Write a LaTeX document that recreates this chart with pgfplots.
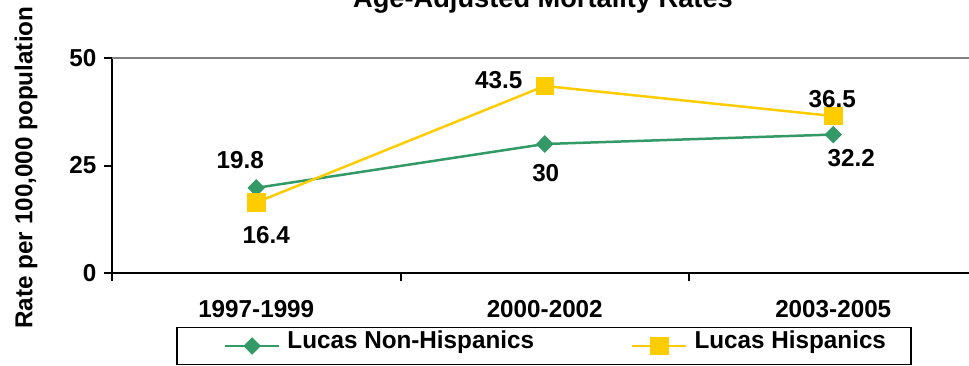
\documentclass[border=0pt]{standalone}
\usepackage{fontspec}
\setmainfont{Liberation Sans}[FakeStretch=0.99]
\usepackage{pgfplots}
\pgfplotsset{compat=1.18}
\usepackage{pgfplotstable}
\definecolor{cgreen}{RGB}{51,153,102}
\definecolor{cyellow}{RGB}{255,204,0}
\newcommand\fs{\fontsize{24.5}{28}\selectfont\bfseries}
\pgfplotstableread{
x y dx dy
0 19.8 -16 28
1 30 1 -29
2 32.2 18 -23.5
}\nonhisp
\pgfplotstableread{
x y dx dy
0 16.4 10 -33
1 43.5 -46 6
2 36.5 -1 17
}\hisp
\begin{document}
\begin{tikzpicture}
\path[use as bounding box, clip] (-112pt,-92pt) rectangle (857pt,273pt);
\begin{axis}[
  scale only axis, width=865.5pt, height=215pt,
  xmin=-0.5, xmax=2.5, ymin=0, ymax=50,
  axis x line*=bottom, axis y line*=left,
  axis line style={line width=2.5pt, black},
  tick align=outside, major tick length=8pt,
  tick style={line width=2pt, black},
  xtick={-0.5,0.5,1.5,2.5},
  xticklabels={1997-1999,2000-2002,2003-2005},
  x tick label as interval,
  ytick={0,25,50},
  /pgf/number format/assume math mode=true,
  ticklabel style={font=\fs},
  yticklabel style={xshift=-4pt},
  xticklabel style={yshift=-16pt},
  ylabel={Rate per 100,000 population},
  ylabel style={at={(axis description cs:-0.0994,0.49)}, anchor=center, font=\fs},
  title={Age-Adjusted Mortality Rates},
  title style={at={(axis description cs:0.498,1.2093)}, anchor=base, font=\fontsize{27.5}{31}\selectfont\bfseries},
  clip=false,
  legend columns=2,
  legend style={at={(axis description cs:0.4991,-0.3395)}, anchor=center, draw=black, line width=1.5pt,
    inner xsep=25pt, inner ysep=10.5pt, font=\fs,
    nodes={inner sep=0pt, text depth=0.2em, text height=0.75em},
    cells={anchor=west},
    /tikz/column 1/.style={column sep=7pt},
    /tikz/column 2/.style={column sep=75pt},
    /tikz/column 3/.style={column sep=7pt}},
  legend image code/.code={\path (-22pt,0pt); \draw[mark repeat=2, mark phase=2, #1] plot coordinates {(0pt,0pt) (27pt,0pt) (54pt,0pt)};},
  nodes near coords style={anchor=center, xshift=\dx pt, yshift=\dy pt, font=\fs, text=black},
]
\draw[line width=1.5pt, gray] (rel axis cs:0,1) -- (rel axis cs:1,1);
\addplot[cgreen, line width=2.5pt, mark=diamond*, mark size=7pt, mark options={solid, xscale=1.33},
  visualization depends on={\thisrow{dx} \as \dx},
  visualization depends on={\thisrow{dy} \as \dy},
  nodes near coords, point meta=explicit symbolic]
  table[x=x, y=y, meta=y] {\nonhisp};
\addlegendentry{Lucas Non-Hispanics}
\addplot[cyellow, line width=2.5pt, mark=square*, mark size=8pt, mark options={solid},
  visualization depends on={\thisrow{dx} \as \dx},
  visualization depends on={\thisrow{dy} \as \dy},
  nodes near coords, point meta=explicit symbolic]
  table[x=x, y=y, meta=y] {\hisp};
\addlegendentry{Lucas Hispanics}
\end{axis}
\end{tikzpicture}
\end{document}
